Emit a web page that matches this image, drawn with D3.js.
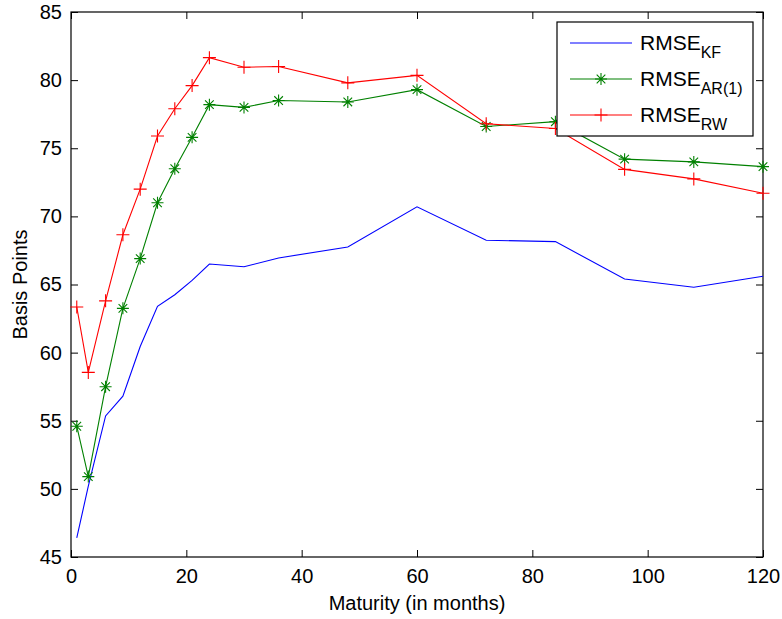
<!DOCTYPE html>
<html>
<head>
<meta charset="utf-8">
<script src="https://d3js.org/d3.v7.min.js"></script>
<style>
  body { margin: 0; background: #fff; }
  text { font-family: "Liberation Sans", Arial, sans-serif; fill: #000; }
</style>
</head>
<body>
<svg id="svg" width="782" height="619"></svg>
<script>
var maturity = [1, 3, 6, 9, 12, 15, 18, 21, 24, 30, 36, 48, 60, 72, 84, 96, 108, 120];
var rmseKF = [46.4, 50.2, 55.35, 56.8, 60.45, 63.4, 64.25, 65.3, 66.5, 66.3, 66.95, 67.75, 70.7, 68.25, 68.15, 65.4, 64.8, 65.6];
var rmseAR = [54.6, 50.9, 57.5, 63.25, 66.9, 71.0, 73.5, 75.8, 78.2, 78.0, 78.5, 78.4, 79.3, 76.6, 76.95, 74.2, 74.0, 73.65];
var rmseRW = [63.35, 58.55, 63.8, 68.65, 72.0, 75.9, 77.9, 79.6, 81.65, 80.95, 81.0, 79.8, 80.35, 76.8, 76.45, 73.45, 72.75, 71.7];
var xTicks = [0, 20, 40, 60, 80, 100, 120];
var yTicks = [45, 50, 55, 60, 65, 70, 75, 80, 85];

var svg = d3.select("#svg");
var mLeft = 71, mRight = 763, mTop = 12, mBottom = 557;

var x = d3.scaleLinear().domain([0, 120]).range([mLeft, mRight]);
var y = d3.scaleLinear().domain([45, 85]).range([mBottom, mTop]);

// ticks, inward on all four sides
svg.append("g")
    .attr("transform", "translate(0," + mBottom + ")")
    .call(d3.axisBottom(x).tickValues(xTicks).tickSize(-7).tickPadding(12).tickFormat(d3.format("d")))
    .call(function(g) { g.select(".domain").remove(); });
svg.append("g")
    .attr("transform", "translate(0," + mTop + ")")
    .call(d3.axisTop(x).tickValues(xTicks).tickSize(-7).tickFormat(""))
    .call(function(g) { g.select(".domain").remove(); });
svg.append("g")
    .attr("transform", "translate(" + mLeft + ",0)")
    .call(d3.axisLeft(y).tickValues(yTicks).tickSize(-7).tickPadding(9).tickFormat(d3.format("d")))
    .call(function(g) { g.select(".domain").remove(); });
svg.append("g")
    .attr("transform", "translate(" + mRight + ",0)")
    .call(d3.axisRight(y).tickValues(yTicks).tickSize(-7).tickFormat(""))
    .call(function(g) { g.select(".domain").remove(); });

svg.selectAll(".tick line").attr("stroke", "#000");
svg.selectAll(".tick text")
    .attr("font-size", 20)
    .attr("font-family", "Liberation Sans, Arial, sans-serif");

svg.append("rect")
    .attr("x", mLeft).attr("y", mTop)
    .attr("width", mRight - mLeft).attr("height", mBottom - mTop)
    .attr("fill", "none").attr("stroke", "#000").attr("stroke-width", 1.2);

var line = d3.line()
    .x(function(d) { return x(d[0]); })
    .y(function(d) { return y(d[1]); });

function series(vals) { return maturity.map(function(m, i) { return [m, vals[i]]; }); }

var plot = svg.append("g");

function star(g, cx, cy, col) {
    var r = 6, d = r * 0.72;
    var p = "M" + (cx - r) + "," + cy + "H" + (cx + r) +
            "M" + cx + "," + (cy - r) + "V" + (cy + r) +
            "M" + (cx - d) + "," + (cy - d) + "L" + (cx + d) + "," + (cy + d) +
            "M" + (cx - d) + "," + (cy + d) + "L" + (cx + d) + "," + (cy - d);
    g.append("path").attr("d", p).attr("stroke", col).attr("stroke-width", 1.1).attr("fill", "none");
}
function plus(g, cx, cy, col) {
    var r = 6.5;
    var p = "M" + (cx - r) + "," + cy + "H" + (cx + r) +
            "M" + cx + "," + (cy - r) + "V" + (cy + r);
    g.append("path").attr("d", p).attr("stroke", col).attr("stroke-width", 1.1).attr("fill", "none");
}

plot.append("path").datum(series(rmseKF))
    .attr("d", line).attr("fill", "none").attr("stroke", "#0000ff").attr("stroke-width", 1.1);
plot.append("path").datum(series(rmseAR))
    .attr("d", line).attr("fill", "none").attr("stroke", "#008000").attr("stroke-width", 1.1);
series(rmseAR).forEach(function(d) { star(plot, x(d[0]), y(d[1]), "#008000"); });
plot.append("path").datum(series(rmseRW))
    .attr("d", line).attr("fill", "none").attr("stroke", "#ff0000").attr("stroke-width", 1.1);
series(rmseRW).forEach(function(d) { plus(plot, x(d[0]), y(d[1]), "#ff0000"); });

// axis labels
svg.append("text")
    .attr("x", (mLeft + mRight) / 2).attr("y", 610)
    .attr("text-anchor", "middle").attr("font-size", 20)
    .text("Maturity (in months)");
svg.append("text")
    .attr("transform", "translate(27," + ((mTop + mBottom) / 2) + ") rotate(-90)")
    .attr("text-anchor", "middle").attr("font-size", 20)
    .text("Basis Points");

// legend
var legend = svg.append("g");
legend.append("rect")
    .attr("x", 557).attr("y", 22).attr("width", 196).attr("height", 114)
    .attr("fill", "#fff").attr("stroke", "#000").attr("stroke-width", 1.2);

var legItems = [
    { name: "KF", color: "#0000ff", mark: null },
    { name: "AR(1)", color: "#008000", mark: star },
    { name: "RW", color: "#ff0000", mark: plus }
];
legItems.forEach(function(it, i) {
    var ly = 43 + i * 36;
    legend.append("line")
        .attr("x1", 570).attr("x2", 632).attr("y1", ly).attr("y2", ly)
        .attr("stroke", it.color).attr("stroke-width", 1.1);
    if (it.mark) it.mark(legend, 601, ly, it.color);
    var t = legend.append("text").attr("x", 640).attr("y", ly + 7).attr("font-size", 21);
    t.append("tspan").text("RMSE");
    t.append("tspan").attr("dy", 8).attr("font-size", 16).text(it.name);
});
</script>
</body>
</html>
